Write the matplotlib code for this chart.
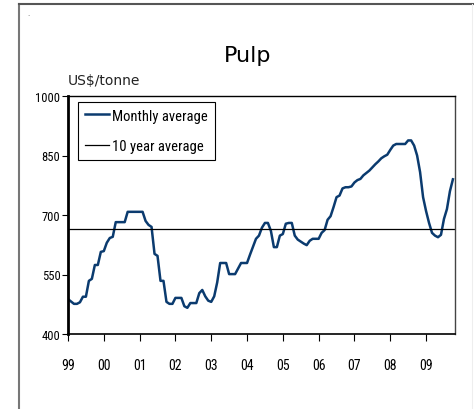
import numpy as np
import matplotlib.pyplot as plt
from matplotlib.lines import Line2D
from matplotlib import font_manager

# Monthly pulp price, Jan 1999 - Oct 2009 (US$/tonne)
monthly_avg = [
    488, 482, 476, 476, 480, 494, 494, 534, 539, 574, 574, 607,   # 1999
    609, 630, 642, 645, 682, 682, 682, 682, 708, 708, 708, 708,   # 2000
    708, 708, 685, 675, 670, 602, 597, 534, 534, 481, 476, 476,   # 2001
    491, 491, 491, 470, 466, 478, 478, 478, 503, 511, 495, 484,   # 2002
    481, 495, 530, 579, 579, 579, 551, 551, 551, 565, 579, 579,   # 2003
    579, 600, 620, 640, 648, 668, 680, 680, 660, 619, 619, 648,   # 2004
    652, 678, 680, 680, 648, 638, 633, 628, 624, 635, 640, 640,   # 2005
    640, 655, 662, 688, 697, 720, 745, 749, 767, 770, 770, 772,   # 2006
    782, 788, 791, 800, 806, 812, 820, 828, 835, 843, 848, 852,   # 2007
    864, 875, 879, 879, 879, 879, 888, 888, 875, 850, 808, 745,   # 2008
    710, 680, 655, 648, 644, 650, 690, 715, 760, 790,             # 2009
]
ten_year_avg = 665
year_labels = ['99', '00', '01', '02', '03', '04', '05', '06', '07', '08', '09']
y_ticks = [400, 550, 700, 850, 1000]

names = {f.name for f in font_manager.fontManager.ttflist}
narrow = [n for n in ['Liberation Sans Narrow', 'DejaVu Sans Condensed', 'Roboto Condensed']
          if n in names] + ['DejaVu Sans']

fig = plt.figure(figsize=(4.74, 4.10), dpi=100)

# outer frame
fig.add_artist(Line2D([19 / 474, 19 / 474], [0, 1 - 5 / 410], color='#777777', lw=1.5))
fig.add_artist(Line2D([19 / 474, 1], [1 - 5 / 410, 1 - 5 / 410], color='#555555', lw=1.5))
fig.add_artist(Line2D([472 / 474, 472 / 474], [0, 1 - 5 / 410], color='#eeeeee', lw=0.8))
fig.text(27 / 474, 1 - 16 / 410, '.', fontsize=5, color='#666666')

ax = fig.add_axes([68 / 474, 1 - 335 / 410, (455 - 68) / 474, (335 - 97) / 410])

x = np.arange(len(monthly_avg))
ax.plot(x, monthly_avg, color='#0b3b6f', lw=1.8, solid_joinstyle='round')
ax.axhline(ten_year_avg, color='black', lw=0.9)

ax.set_ylim(400, 1000)
ax.set_xlim(0, 129.7)
ax.set_yticks(y_ticks)
ax.set_yticklabels([str(v) for v in y_ticks], family=narrow, fontsize=9)
ax.set_xticks(np.arange(len(year_labels)) * 12)
ax.set_xticklabels(year_labels, family=narrow, fontsize=10)
ax.tick_params(axis='y', direction='out', length=4, width=0.8, pad=1.5)
ax.tick_params(axis='x', direction='out', length=5, width=0.8, pad=12)

ax.spines['left'].set_linewidth(2)
ax.spines['bottom'].set_linewidth(1.2)
ax.spines['top'].set_linewidth(1)
ax.spines['right'].set_linewidth(1)
ax.spines['right'].set_color('#444444')

handles = [Line2D([], [], color='#0b3b6f', lw=1.8), Line2D([], [], color='black', lw=0.9)]
leg = ax.legend(handles, ['Monthly average', '10 year average'], loc='upper left',
                bbox_to_anchor=(0.026, 0.975), fancybox=False, framealpha=1,
                edgecolor='black', prop={'family': narrow, 'size': 10.5},
                handlelength=1.7, handletextpad=0.2, borderpad=0.45, labelspacing=1.15,
                borderaxespad=0)
leg.get_frame().set_linewidth(0.8)

fig.text(248 / 474, 1 - 56 / 410, 'Pulp', ha='center', va='center', fontsize=16,
         family='DejaVu Sans')
fig.text(68 / 474, 1 - 81 / 410, 'US$/tonne', ha='left', va='center', fontsize=10,
         family='DejaVu Sans', color='#222222')

fig.savefig('out.png', dpi=100)
